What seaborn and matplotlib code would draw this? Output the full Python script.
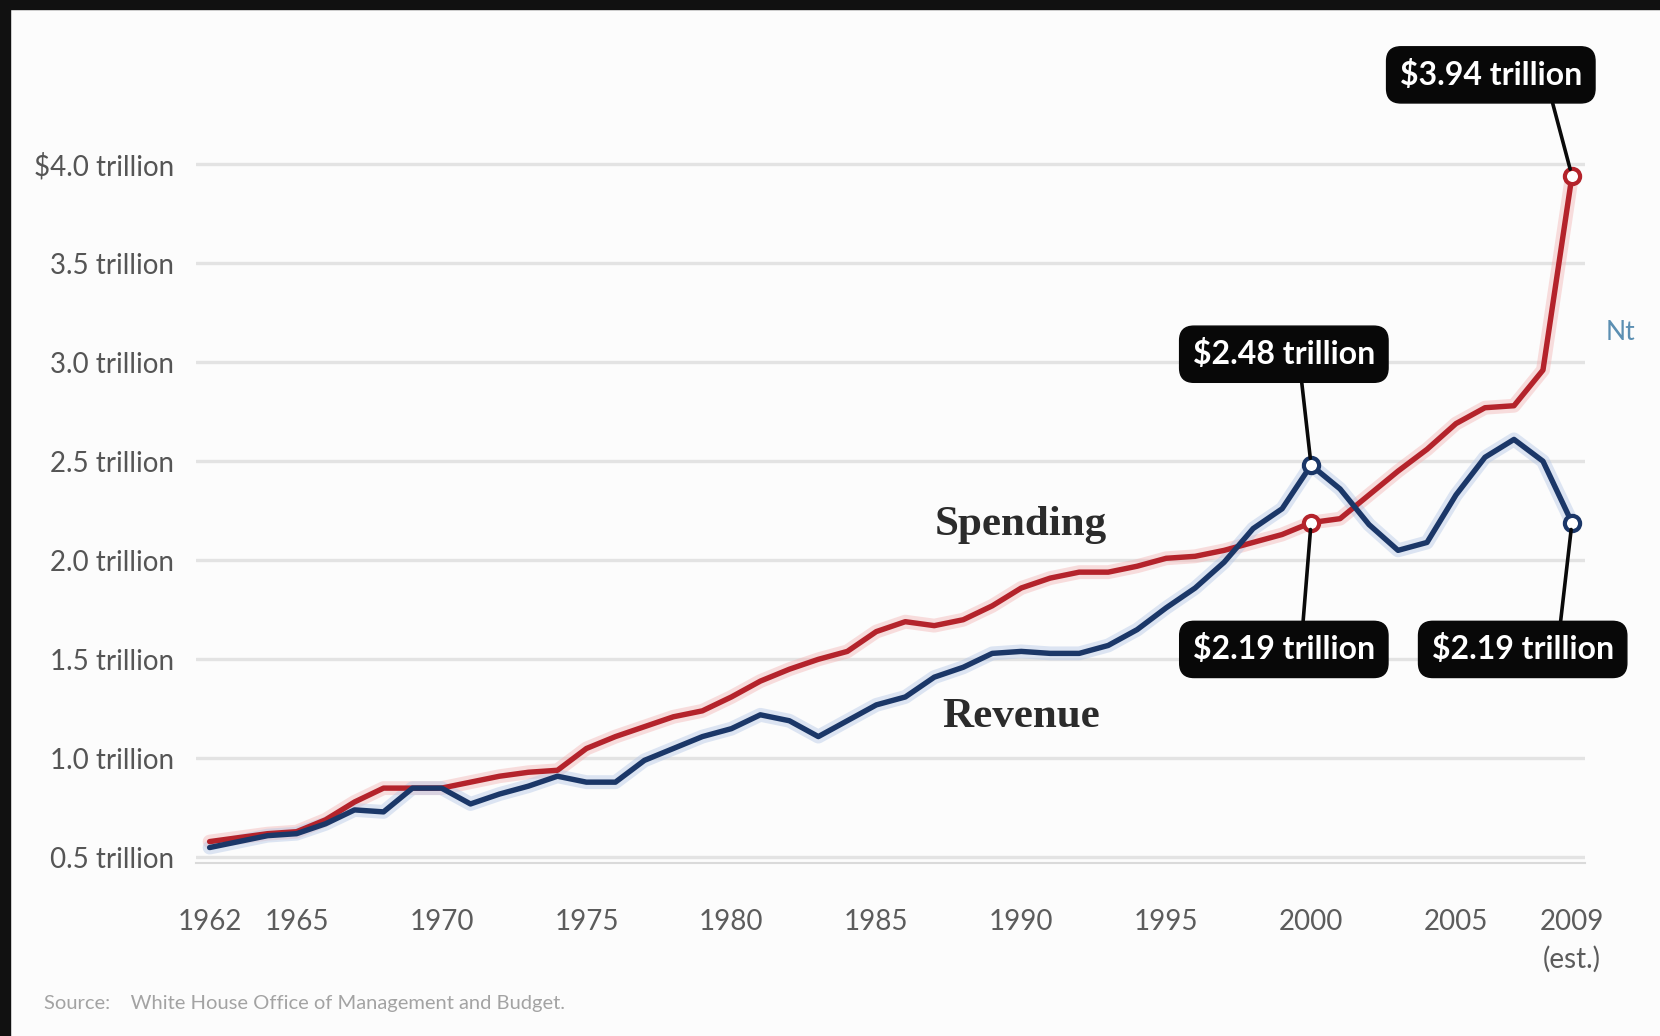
import matplotlib
matplotlib.use("Agg")
import matplotlib.pyplot as plt
from matplotlib.patches import Rectangle
import pandas as pd
import seaborn as sns

# ---------------- data ----------------
years = list(range(1962, 2010))
spending = [0.58, 0.60, 0.62, 0.63, 0.69, 0.78, 0.85, 0.85, 0.85, 0.88,
            0.91, 0.93, 0.94, 1.05, 1.11, 1.16, 1.21, 1.24, 1.31, 1.39,
            1.45, 1.50, 1.54, 1.64, 1.69, 1.67, 1.70, 1.77, 1.86, 1.91,
            1.94, 1.94, 1.97, 2.01, 2.02, 2.05, 2.09, 2.13, 2.19, 2.21,
            2.33, 2.45, 2.56, 2.69, 2.77, 2.78, 2.96, 3.94]
revenue = [0.55, 0.58, 0.61, 0.62, 0.67, 0.74, 0.73, 0.85, 0.85, 0.77,
           0.82, 0.86, 0.91, 0.88, 0.88, 0.99, 1.05, 1.11, 1.15, 1.22,
           1.19, 1.11, 1.19, 1.27, 1.31, 1.41, 1.46, 1.53, 1.54, 1.53,
           1.53, 1.57, 1.65, 1.76, 1.86, 1.99, 2.16, 2.26, 2.48, 2.36,
           2.18, 2.05, 2.09, 2.33, 2.52, 2.61, 2.50, 2.19]
series_names = ["Spending", "Revenue"]

y_ticks = [0.5, 1.0, 1.5, 2.0, 2.5, 3.0, 3.5, 4.0]
y_tick_labels = ["0.5 trillion", "1.0 trillion", "1.5 trillion", "2.0 trillion",
                 "2.5 trillion", "3.0 trillion", "3.5 trillion", "$4.0 trillion"]
x_ticks = [1962, 1965, 1970, 1975, 1980, 1985, 1990, 1995, 2000, 2005, 2009]
x_tick_labels = ["1962", "1965", "1970", "1975", "1980", "1985", "1990",
                 "1995", "2000", "2005", "2009\n(est.)"]

callout_series = ["Spending", "Revenue", "Spending", "Revenue"]
callout_years = [2009, 2000, 2000, 2009]
callout_values = [3.94, 2.48, 2.19, 2.19]
callout_texts = ["$3.94 trillion", "$2.48 trillion", "$2.19 trillion", "$2.19 trillion"]

source_text = "Source:    White House Office of Management and Budget."

# ---------------- style ----------------
sns.set_theme(style="white")
plt.rcParams["font.family"] = ["Lato", "DejaVu Sans"]

line_colors = {"Spending": "#b4232b", "Revenue": "#1b3768"}
halo_colors = {"Spending": "#f3b5b5", "Revenue": "#b5c8e6"}

df = pd.DataFrame({
    "year": years + years,
    "value": spending + revenue,
    "series": ["Spending"] * len(years) + ["Revenue"] * len(years),
})
callouts = pd.DataFrame({"year": callout_years, "value": callout_values,
                         "series": callout_series, "text": callout_texts})

fig = plt.figure(figsize=(16.6, 10.36), dpi=100, facecolor="#fcfcfc")
ax = fig.add_axes([196 / 1660, 173 / 1036, 1389 / 1660, 823 / 1036])
ax.set_facecolor("#fcfcfc")

# halo + main lines
sns.lineplot(data=df, x="year", y="value", hue="series", palette=halo_colors,
             linewidth=10, alpha=0.45, legend=False, ax=ax, zorder=2)
sns.lineplot(data=df, x="year", y="value", hue="series", palette=line_colors,
             linewidth=3.9, legend=False, ax=ax, zorder=3)

# circle markers
for s in series_names:
    sub = callouts[callouts["series"] == s]
    sns.scatterplot(data=sub, x="year", y="value", color="white",
                    edgecolor=line_colors[s], linewidth=3, s=120, ax=ax,
                    zorder=5, legend=False)

# callout boxes (layout: box centre in data coords, connector anchor on box)
box_layout = [((2006.2, 4.45), (0.82, 0.0)),
              ((1999.06, 3.04), (0.59, 0.0)),
              ((1999.06, 1.55), (0.60, 1.0)),
              ((2007.3, 1.55), (0.70, 1.0))]
for (_, row), (pos, rel) in zip(callouts.iterrows(), box_layout):
    ax.annotate(row["text"], xy=(row["year"], row["value"]), xytext=pos,
                textcoords="data", ha="center", va="center", color="white",
                fontsize=23, fontweight="bold",
                bbox=dict(boxstyle="round,pad=0.41,rounding_size=0.45",
                          fc="#080808", ec="#080808"),
                arrowprops=dict(arrowstyle="-", color="#0a0a0a", lw=2.6,
                                relpos=rel, shrinkA=0, shrinkB=5),
                annotation_clip=False, zorder=6)

# series labels
ax.text(1990, 2.18, "Spending", ha="center", va="center",
        family=["Liberation Serif", "DejaVu Serif"], fontsize=31,
        fontweight="bold", color="#2b2b2b", zorder=4)
ax.text(1990, 1.21, "Revenue", ha="center", va="center",
        family=["Liberation Serif", "DejaVu Serif"], fontsize=31,
        fontweight="bold", color="#2b2b2b", zorder=4)

# axes
ax.set_xlim(1961.53, 2009.45)
ax.set_ylim(0.472, 4.626)
ax.set_yticks(y_ticks)
ax.set_yticklabels(y_tick_labels)
ax.set_xticks(x_ticks)
ax.set_xticklabels(x_tick_labels)
ax.set_xticks(years, minor=True)
ax.set_xlabel("")
ax.set_ylabel("")
ax.yaxis.grid(True, color="#e3e3e3", linewidth=2.4)
ax.xaxis.grid(False)
for side in ["left", "top", "right"]:
    ax.spines[side].set_visible(False)
ax.spines["bottom"].set_color("#dadada")
ax.spines["bottom"].set_linewidth(1.5)
ax.tick_params(axis="y", length=0, pad=16, labelsize=20, labelcolor="#555555")
ax.tick_params(axis="x", which="major", direction="out", length=10, width=1.5,
               color="#d6d6d6", pad=23, labelsize=20, labelcolor="#5c5c5c")
ax.tick_params(axis="x", which="minor", direction="out", length=6, width=1.3,
               color="#dcdcdc")
for lbl in ax.get_xticklabels():
    lbl.set_linespacing(1.5)

# source + cut-off label at right
fig.text(44 / 1660, 1 - 1003 / 1036, source_text, ha="left", va="center",
         fontsize=14.5, color="#a3a3a3")
fig.text(1606 / 1660, 1 - 333 / 1036, "Nt", ha="left", va="center",
         fontsize=19, color="#5b8fb2")

# dark frame at top and left
fig.patches.append(Rectangle((0, 1 - 9 / 1036), 1, 9 / 1036,
                             transform=fig.transFigure, color="#111111", zorder=10))
fig.patches.append(Rectangle((0, 0), 10 / 1660, 1,
                             transform=fig.transFigure, color="#111111", zorder=10))

fig.savefig("out.png", dpi=100, facecolor=fig.get_facecolor())
